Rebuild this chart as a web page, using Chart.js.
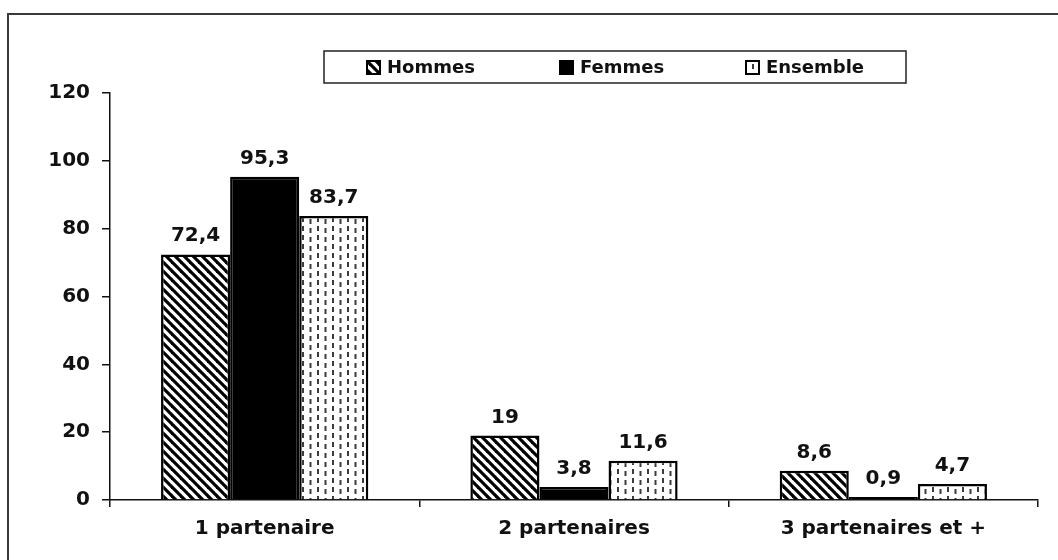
<!DOCTYPE html>
<html>
<head>
<meta charset="utf-8">
<script src="https://cdn.jsdelivr.net/npm/chart.js@4/dist/chart.umd.min.js"></script>
<style>
  html, body { margin: 0; padding: 0; background: #fff; }
  #wrap { width: 1058px; height: 560px; position: relative; }
</style>
</head>
<body>
<div id="wrap"><canvas id="c" width="1058" height="560"></canvas></div>
<script>
// Nombre de partenaires sexuels, en % par sexe
const categories = ['1 partenaire', '2 partenaires', '3 partenaires et +'];
const hommes   = [72.4, 19, 8.6];
const femmes   = [95.3, 3.8, 0.9];
const ensemble = [83.7, 11.6, 4.7];
const yTicks   = [0, 20, 40, 60, 80, 100, 120];

const FONT = 'DejaVu Sans';

// Fill patterns
function hatchPattern() {
  const s = 9, cv = document.createElement('canvas');
  cv.width = s; cv.height = s;
  const g = cv.getContext('2d');
  g.fillStyle = '#fff'; g.fillRect(0, 0, s, s);
  g.strokeStyle = '#000'; g.lineWidth = 3.2;
  for (const k of [-s, 0, s]) {
    g.beginPath(); g.moveTo(k - 2, -2); g.lineTo(k + s + 2, s + 2); g.stroke();
  }
  return g.createPattern(cv, 'repeat');
}
function dashPattern() {
  const cv = document.createElement('canvas');
  cv.width = 15; cv.height = 9;
  const g = cv.getContext('2d');
  g.fillStyle = '#fff'; g.fillRect(0, 0, 15, 9);
  g.fillStyle = '#3c3c3c';
  g.fillRect(2, 1, 2, 5);
  g.fillRect(9.5, 3, 2, 5);
  return g.createPattern(cv, 'repeat');
}
const pHommes = hatchPattern();
const pEnsemble = dashPattern();

const fmt = v => String(v).replace('.', ',');

// Outer frame
const framePlugin = {
  id: 'frame',
  beforeDraw(chart) {
    const ctx = chart.ctx;
    ctx.save();
    ctx.fillStyle = '#fff';
    ctx.fillRect(0, 0, chart.width, chart.height);
    ctx.strokeStyle = '#3a3a3a'; ctx.lineWidth = 2;
    ctx.strokeRect(8, 14, chart.width + 20, chart.height + 20);
    ctx.restore();
  }
};

// Value labels above bars
const valuePlugin = {
  id: 'values',
  afterDatasetsDraw(chart) {
    const ctx = chart.ctx;
    ctx.save();
    ctx.font = 'bold 20px "' + FONT + '"';
    ctx.fillStyle = '#111';
    ctx.textAlign = 'center';
    ctx.textBaseline = 'alphabetic';
    chart.data.datasets.forEach((ds, i) => {
      chart.getDatasetMeta(i).data.forEach((bar, j) => {
        ctx.fillText(fmt(ds.data[j]), bar.x, bar.y - 13);
      });
    });
    ctx.restore();
  }
};

// Boxed legend
const legendPlugin = {
  id: 'boxLegend',
  afterDraw(chart) {
    const ctx = chart.ctx;
    ctx.save();
    ctx.strokeStyle = '#222'; ctx.lineWidth = 1.5;
    ctx.strokeRect(324, 51, 582, 32);
    const xs = [367, 560, 746];
    ctx.font = 'bold 18px "' + FONT + '"';
    ctx.textBaseline = 'middle';
    ctx.textAlign = 'left';
    chart.data.datasets.forEach((ds, i) => {
      const x = xs[i], y = 61;
      ctx.fillStyle = ds.backgroundColor;
      ctx.fillRect(x, y, 13, 13);
      ctx.strokeStyle = '#000'; ctx.lineWidth = 2;
      ctx.strokeRect(x, y, 13, 13);
      ctx.fillStyle = '#111';
      ctx.fillText(ds.label, x + 20, y + 7);
    });
    ctx.restore();
  }
};

new Chart(document.getElementById('c'), {
  type: 'bar',
  data: {
    labels: categories,
    datasets: [
      { label: 'Hommes',   data: hommes,   backgroundColor: pHommes,   borderColor: '#000', borderWidth: 2.5 },
      { label: 'Femmes',   data: femmes,   backgroundColor: '#000',    borderColor: '#000', borderWidth: 2.5 },
      { label: 'Ensemble', data: ensemble, backgroundColor: pEnsemble, borderColor: '#000', borderWidth: 2.5 }
    ]
  },
  options: {
    responsive: false,
    animation: false,
    events: [],
    layout: { padding: { top: 93, right: 20, left: 0, bottom: 0 } },
    datasets: { bar: { categoryPercentage: 0.67, barPercentage: 1.0 } },
    plugins: { legend: { display: false }, tooltip: { enabled: false } },
    scales: {
      x: {
        afterFit(s) { s.height = 60; },
        border: { display: true, color: '#111', width: 1.5 },
        grid: { display: true, offset: true, drawOnChartArea: false, drawTicks: true, tickLength: 7, color: '#111', lineWidth: 1.5 },
        ticks: { color: '#111', padding: 10, font: { family: FONT, size: 20, weight: 'bold' } }
      },
      y: {
        min: 0, max: 120,
        afterFit(s) { s.width = 110; },
        afterBuildTicks(s) { s.ticks = yTicks.map(v => ({ value: v })); },
        border: { display: true, color: '#111', width: 1.5 },
        grid: { display: true, drawOnChartArea: false, drawTicks: true, tickLength: 8, color: '#111', lineWidth: 1.5 },
        ticks: { color: '#111', padding: 12, font: { family: FONT, size: 20, weight: 'bold' } }
      }
    }
  },
  plugins: [framePlugin, valuePlugin, legendPlugin]
});
</script>
</body>
</html>
